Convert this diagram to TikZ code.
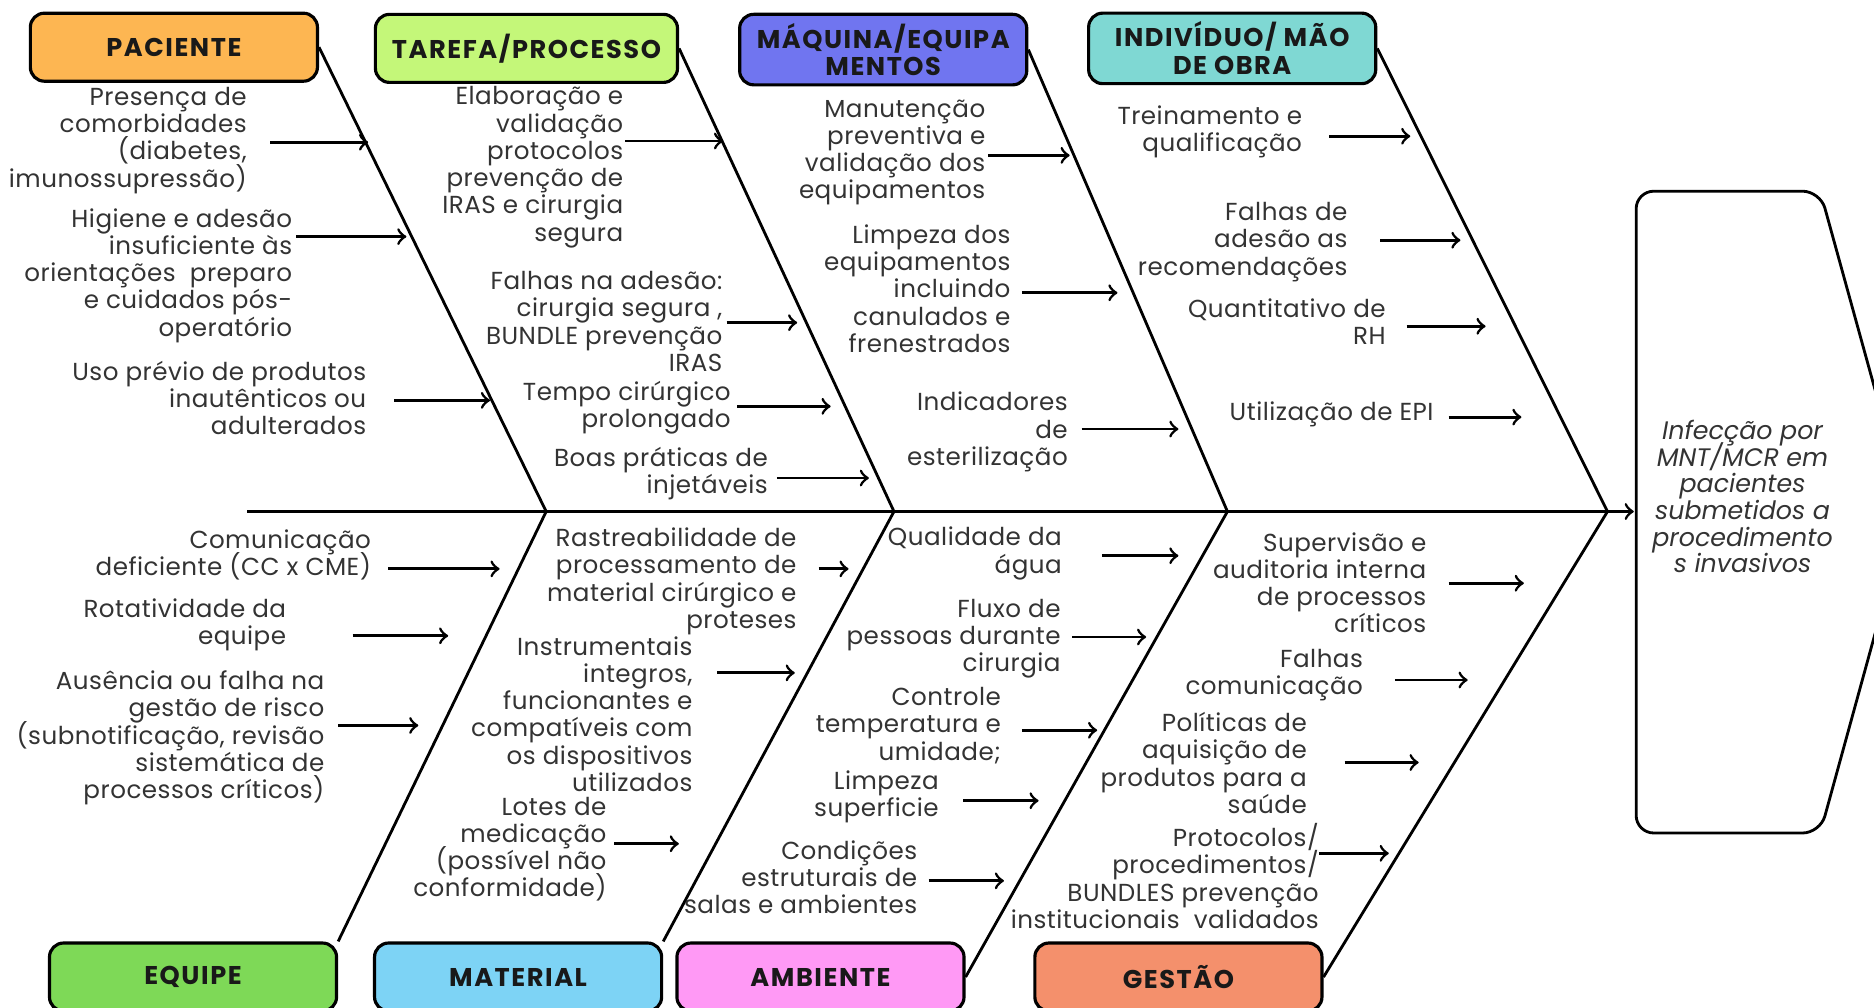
\documentclass[tikz,border=0pt]{standalone}
\usepackage{fontspec}
\setmainfont{Poppins}

\definecolor{corPaciente}{HTML}{FDB652}
\definecolor{corTarefa}{HTML}{C4F779}
\definecolor{corMaquina}{HTML}{7075F0}
\definecolor{corIndividuo}{HTML}{7FD8D3}
\definecolor{corEquipe}{HTML}{7ED957}
\definecolor{corMaterial}{HTML}{7DD3F5}
\definecolor{corAmbiente}{HTML}{FF99F5}
\definecolor{corGestao}{HTML}{F4906C}

\begin{document}
\lineskiplimit=-20pt
\begin{tikzpicture}[x=0.011952cm, y=-0.011952cm,
    caixa/.style={draw=black, line width=0.9pt, rounded corners=4pt,
        minimum width=2.87cm, minimum height=0.68cm, align=center, inner sep=1pt,
        font=\fontsize{7.3}{7.9}\selectfont\bfseries\addfontfeatures{LetterSpace=6},
        text=black!90},
    causa/.style={anchor=east, align=right, inner sep=0pt,
        font=\fontsize{7}{7.75}\selectfont\addfontfeatures{LetterSpace=2}, text=black!80}]
    \useasboundingbox (0,0) rectangle (1568,843);

    % Caixas de categorias (em cima)
    \node[caixa, fill=corPaciente] (paciente) at (145.5,39.5) {PACIENTE};
    \node[caixa, fill=corTarefa, minimum width=3.02cm] (tarefa) at (440.5,40.5) {TAREFA/PROCESSO};
    \node[caixa, fill=corMaquina, minimum height=0.705cm] (maquina) at (739,41.5) {MÁQUINA/EQUIPA\\MENTOS};
    \node[caixa, fill=corIndividuo, minimum height=0.705cm] (individuo) at (1031,40.5) {INDIVÍDUO/ MÃO\\DE OBRA};

    % Caixas de categorias (em baixo)
    \node[caixa, fill=corEquipe] (equipe) at (161.5,817.5) {EQUIPE};
    \node[caixa, fill=corMaterial] (material) at (433.5,817.5) {MATERIAL};
    \node[caixa, fill=corAmbiente] (ambiente) at (686.5,817.5) {AMBIENTE};
    \node[caixa, fill=corGestao] (gestao) at (986,817.5) {GESTÃO};

    % Espinha principal e efeito
    \coordinate (cauda) at (207,428);
    \coordinate (cabeca) at (1367,428);
    \draw[thick,->] (cauda) -- (cabeca);

    \draw[thick, rounded corners=5pt]
        (1369,160) -- (1523,160) -- (1597,428) -- (1523,697) -- (1369,697) -- cycle;
    \node[align=center, inner sep=0pt, font=\fontsize{7.2}{7.6}\selectfont\itshape, text=black!80]
        (efeito) at (1458,415.5)
        {Infecção por\\MNT/MCR em\\pacientes\\submetidos a\\procedimento\\s invasivos};

    % Espinhas das categorias
    \coordinate (j1) at (457,428);
    \coordinate (j2) at (748,428);
    \coordinate (j3) at (1027,428);
    \coordinate (j4) at (1345,428);
    \draw[thick] (paciente.east) -- (j1) -- (equipe.north east);
    \draw[thick] (tarefa.east) -- (j2) -- (material.north east);
    \draw[thick] (maquina.east) -- (j3) -- (ambiente.east);
    \draw[thick] (individuo.east) -- (j4) -- (gestao.east);

    % Causas: nome / x texto / y texto / texto / inicio seta / fim seta / y seta
    \foreach \nome/\tx/\ty/\texto/\ax/\bx/\ay in {
        p1/207/117.5/{Presença de\\comorbidades\\(diabetes,\\imunossupressão)}/226/308/119,
        p2/245/230.5/{Higiene e adesão\\insuficiente às\\orientações~ preparo\\e cuidados pós-\\operatório}/248/340/198,
        p3/307/333/{Uso prévio de produtos\\inautênticos ou\\adulterados}/330/410/335,
        t1/522/140/{Elaboração e\\validação\\protocolos\\prevenção de\\IRAS e cirurgia\\segura}/523/605/118,
        t2/605/269/{Falhas na adesão:\\cirurgia segura ,\\BUNDLE prevenção\\IRAS}/608/667/270,
        t3/612/341/{Tempo cirúrgico\\prolongado}/617/695/340,
        t4/643/396/{Boas práticas de\\injetáveis}/650/727/400,
        m1/825/127.5/{Manutenção\\preventiva e\\validação dos\\equipamentos}/827/895/130,
        m2/846/241.5/{Limpeza dos\\equipamentos\\incluindo\\canulados e\\frenestrados}/855/935/245,
        m3/894/361.5/{Indicadores\\de\\esterilização}/905/986/359,
        i1/1090/110.5/{Treinamento e\\qualificação}/1112/1180/114,
        i2/1128/202.5/{Falhas de\\adesão as\\recomendações}/1155/1222/201,
        i3/1160/269/{Quantitativo de\\RH}/1177/1243/273,
        i4/1200/347/{Utilização de EPI}/1212/1273/349,
        e1/311/464.5/{Comunicação\\deficiente (CC x CME)}/325/418/476,
        e2/240/523/{Rotatividade da\\equipe}/295/375/532,
        e3/272/617.5/{Ausência ou falha na\\gestão de risco\\(subnotificação, revisão\\sistemática de\\processos críticos)}/283/350/607,
        ma1/667/486.5/{Rastreabilidade de\\processamento de\\material cirúrgico e\\proteses}/685/710/476,
        ma2/580/597.5/{Instrumentais\\integros,\\funcionantes e\\compatíveis com\\os dispositivos\\utilizados}/600/665/563,
        ma3/508/710.5/{Lotes de\\medicação\\(possível não\\conformidade)}/514/568/706,
        a1/889/463/{Qualidade da\\água}/922/986/465,
        a2/888/534.5/{Fluxo de\\pessoas durante\\cirurgia}/897/959/533,
        a3/838/607/{Controle\\temperatura e\\umidade;}/855/918/611,
        a4/786/667/{Limpeza\\superficie}/806/869/670,
        a5/768/734/{Condições\\estruturais de\\salas e ambientes}/777/840/737,
        g1/1194/487.5/{Supervisão e\\auditoria interna\\de processos\\críticos}/1212/1275/488,
        g2/1141/565/{Falhas\\comunicação}/1167/1228/569,
        g3/1094/638.5/{Políticas de\\aquisição de\\produtos para a\\saúde}/1125/1187/638,
        g4/1104/733/{Protocolos/\\procedimentos/\\BUNDLES prevenção\\institucionais~ validados}/1104/1162/714} {
        \node[causa] (\nome) at (\tx,\ty) {\texto};
        \coordinate (\nome-a) at (\ax,\ay);
        \coordinate (\nome-b) at (\bx,\ay);
        \draw[thick,->] (\nome-a) -- (\nome-b);
    }

\end{tikzpicture}
\end{document}
